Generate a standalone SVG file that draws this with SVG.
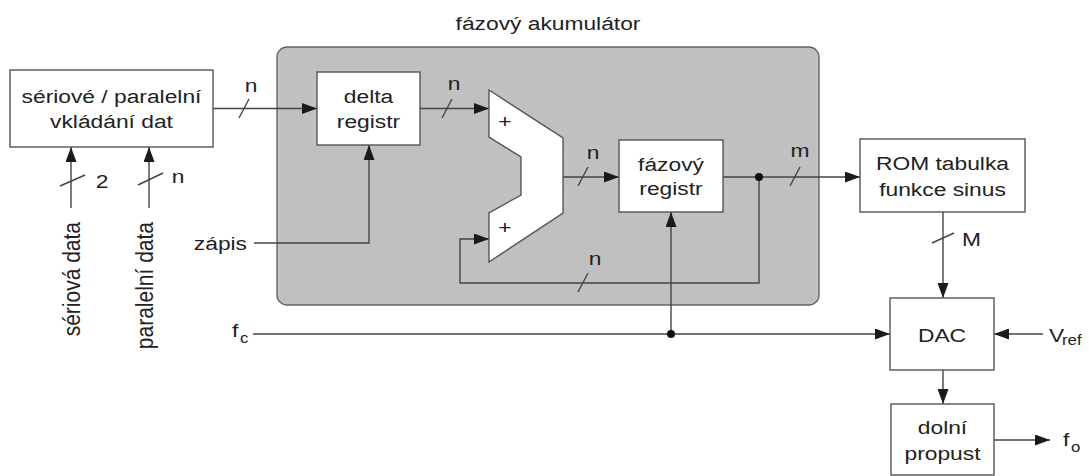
<svg xmlns="http://www.w3.org/2000/svg" width="1089" height="476" viewBox="0 0 1089 476">
<style>
text{font-family:"Liberation Sans",Arial,sans-serif;font-size:19px;fill:#222}
.sub{font-size:14px}
.rot{font-size:21px}
.box{fill:#fff;stroke:#555;stroke-width:1.4}
.ln{fill:none;stroke:#444;stroke-width:1.4}
.arr{fill:none;stroke:#444;stroke-width:1.4;marker-end:url(#ah)}
.sl{stroke:#444;stroke-width:1.4}
.dot{fill:#111}
</style>
<defs>
<marker id="ah" markerWidth="15" markerHeight="11" refX="15" refY="5.5" orient="auto" markerUnits="userSpaceOnUse"><path d="M0,0 L15,5.5 L0,11 z" fill="#1a1a1a"/></marker>
</defs>
<rect width="1089" height="476" fill="#fff"/>

<g id="accumulator">
<rect x="277" y="47" width="542" height="258" rx="10" fill="#c0c0c0" stroke="#666" stroke-width="1.4"/>
<text transform="translate(548,30) scale(1.2,1)" text-anchor="middle">fázový akumulátor</text>
</g>

<g id="connectors">
<path class="arr" d="M213,108.5 H317"/>
<path class="arr" d="M254,243 H369 V145"/>
<path class="arr" d="M420,108.5 H489"/>
<path class="arr" d="M563,177 H619"/>
<path class="arr" d="M723,177 H860"/>
<path class="arr" d="M759,177 V283 H460 V239 H489"/>
<path class="arr" d="M253,334 H890"/>
<path class="arr" d="M671,334 V212"/>
<path class="arr" d="M71,208 V147"/>
<path class="arr" d="M149,208 V147"/>
<path class="arr" d="M943,212 V298"/>
<path class="arr" d="M1043,334 H994"/>
<path class="arr" d="M943,370 V404"/>
<path class="arr" d="M994,440 H1050"/>
<circle class="dot" cx="759" cy="177" r="4"/>
<circle class="dot" cx="671" cy="334" r="4"/>
<!-- bus slashes -->
<line class="sl" x1="239" y1="118" x2="249" y2="99"/>
<line class="sl" x1="442" y1="118" x2="452" y2="99"/>
<line class="sl" x1="578" y1="186" x2="588" y2="167"/>
<line class="sl" x1="790" y1="186" x2="800" y2="167"/>
<line class="sl" x1="578" y1="292" x2="588" y2="273"/>
<line class="sl" x1="60" y1="186" x2="85" y2="175"/>
<line class="sl" x1="138" y1="185" x2="163" y2="173"/>
<line class="sl" x1="932" y1="243" x2="954" y2="233"/>
<text transform="translate(251,92) scale(1.2,1)" text-anchor="middle">n</text>
<text transform="translate(454,90) scale(1.2,1)" text-anchor="middle">n</text>
<text transform="translate(593,159) scale(1.2,1)" text-anchor="middle">n</text>
<text transform="translate(800,157) scale(1.2,1)" text-anchor="middle">m</text>
<text transform="translate(595,265) scale(1.2,1)" text-anchor="middle">n</text>
<text transform="translate(102,188) scale(1.2,1)" text-anchor="middle">2</text>
<text transform="translate(178,183) scale(1.2,1)" text-anchor="middle">n</text>
<text transform="translate(962,246) scale(1.2,1)">M</text>
<text transform="translate(247,250) scale(1.2,1)" text-anchor="end">zápis</text>
<text transform="translate(232,337) scale(1.2,1)">f</text>
<text class="sub" transform="translate(240,343) scale(1.2,1)">c</text>
<text transform="translate(1049,342) scale(1.2,1)">V</text>
<text class="sub" transform="translate(1062,345) scale(1.2,1)">ref</text>
<text transform="translate(1063,446) scale(1.2,1)">f</text>
<text class="sub" transform="translate(1071,452) scale(1.2,1)">o</text>
<text class="rot" transform="translate(80,222) scale(1.15,1) rotate(-90)" text-anchor="end">sériová data</text>
<text class="rot" transform="translate(153,222) scale(1.15,1) rotate(-90)" text-anchor="end">paralelní data</text>
</g>

<g id="input">
<rect class="box" x="10" y="70" width="203" height="77"/>
<text transform="translate(111.5,103) scale(1.2,1)" text-anchor="middle">sériové / paralelní</text>
<text transform="translate(111.5,128) scale(1.2,1)" text-anchor="middle">vkládání dat</text>
</g>

<g id="delta">
<rect class="box" x="317" y="72" width="103" height="73"/>
<text transform="translate(368.5,103) scale(1.2,1)" text-anchor="middle">delta</text>
<text transform="translate(368.5,128) scale(1.2,1)" text-anchor="middle">registr</text>
</g>

<g id="adder">
<path class="box" d="M489,90 L563,138 V213 L489,262 V213 L521,195 V157 L489,137 Z"/>
<text transform="translate(505,128) scale(1.2,1)" text-anchor="middle">+</text>
<text transform="translate(505,234) scale(1.2,1)" text-anchor="middle">+</text>
</g>

<g id="phase">
<rect class="box" x="619" y="140" width="104" height="72"/>
<text transform="translate(671,171) scale(1.2,1)" text-anchor="middle">fázový</text>
<text transform="translate(671,195) scale(1.2,1)" text-anchor="middle">registr</text>
</g>

<g id="rom">
<rect class="box" x="860" y="139" width="165" height="73"/>
<text transform="translate(942.5,170) scale(1.2,1)" text-anchor="middle">ROM tabulka</text>
<text transform="translate(942.5,196) scale(1.2,1)" text-anchor="middle">funkce sinus</text>
</g>

<g id="dac">
<rect class="box" x="890" y="298" width="104" height="72"/>
<text transform="translate(942,342) scale(1.2,1)" text-anchor="middle">DAC</text>
</g>

<g id="lowpass">
<rect class="box" x="891" y="404" width="103" height="71"/>
<text transform="translate(942.5,434) scale(1.2,1)" text-anchor="middle">dolní</text>
<text transform="translate(942.5,460) scale(1.2,1)" text-anchor="middle">propust</text>
</g>
</svg>
